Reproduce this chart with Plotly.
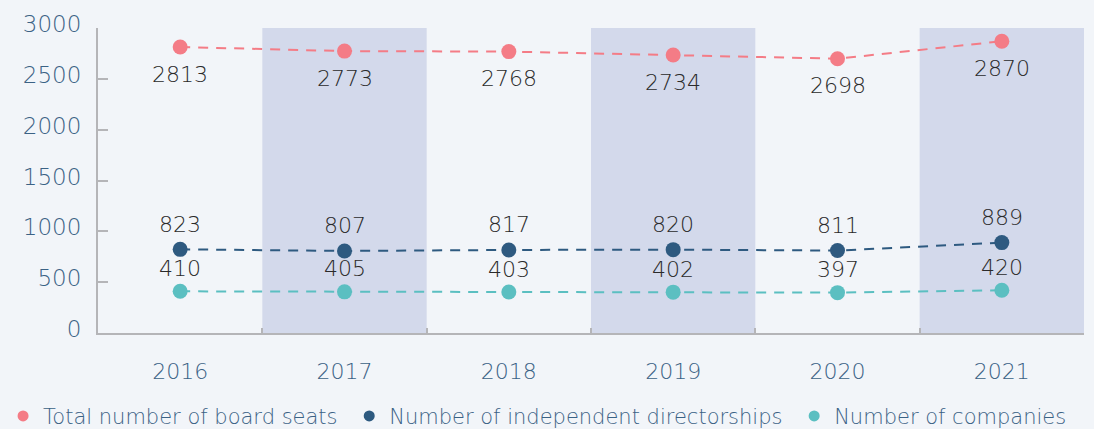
import plotly.graph_objects as go

years = ["2016", "2017", "2018", "2019", "2020", "2021"]
total_seats = [2813, 2773, 2768, 2734, 2698, 2870]
independent = [823, 807, 817, 820, 811, 889]
companies = [410, 405, 403, 402, 397, 420]
y_ticks = [0, 500, 1000, 1500, 2000, 2500, 3000]
shaded_years = ["2017", "2019", "2021"]

series = [
    ("Total number of board seats", total_seats, "#f47c86", -27),
    ("Number of independent directorships", independent, "#2e5a80", 25),
    ("Number of companies", companies, "#5bbfc1", 23),
]

FONT = "DejaVu Sans"
W = 300
fig = go.Figure()

for k, (name, vals, color, shift) in enumerate(series):
    fig.add_trace(go.Scatter(
        x=years, y=vals, mode="lines+markers", name=name, showlegend=False,
        line=dict(color=color, width=2, dash="10px,8px"),
        marker=dict(color=color, size=15),
        hoverinfo="x+y",
    ))
    for i, yv in enumerate(vals):
        fig.add_annotation(x=i, y=yv, xref="x", yref="y", text=str(yv), showarrow=False,
                           yshift=shift,
                           font=dict(family=FONT, size=22, color="#2a2a2a", weight=W))
    legend_name = name + ("\u00a0" if k < len(series) - 1 else "")
    fig.add_trace(go.Scatter(
        x=[None], y=[None], mode="markers", name=legend_name,
        marker=dict(color=color, size=11),
    ))

for yr in shaded_years:
    i = years.index(yr)
    fig.add_shape(type="rect", xref="x", yref="paper", x0=i - 0.5, x1=i + 0.5, y0=0, y1=1,
                  fillcolor="#d3d9eb", line=dict(width=0), layer="below")

fig.update_layout(
    width=1094, height=429,
    paper_bgcolor="#f2f5f9", plot_bgcolor="#f2f5f9",
    margin=dict(l=98, r=10, t=28, b=96, autoexpand=False),
    font=dict(family=FONT, color="#3b6285", weight=W),
    legend=dict(orientation="h", x=-0.0963, xanchor="left", y=-0.206, yanchor="top",
                font=dict(family=FONT, size=21, color="#3b6285", weight=W),
                itemwidth=30, bgcolor="rgba(0,0,0,0)"),
    xaxis=dict(type="category", range=[-0.5, 5.5], showgrid=False, showline=True,
               linecolor="#b5b5b8", linewidth=2, ticks="inside", tickson="boundaries",
               ticklen=5, tickcolor="#b5b5b8", tickwidth=2,
               tickfont=dict(family=FONT, size=22, color="#3b6285", weight=W),
               ticklabelstandoff=18),
    yaxis=dict(range=[0, 3000], tickvals=y_ticks, showgrid=False, zeroline=False,
               showline=True, linecolor="#b5b5b8", linewidth=2, ticks="inside",
               ticklen=10, tickcolor="#b5b5b8", tickwidth=2,
               tickfont=dict(family=FONT, size=23, color="#3b6285", weight=W),
               ticklabelstandoff=10, ticklabelshift=-4),
)

fig.write_html("out.html", config={"displayModeBar": False},
               post_script="document.body.style.margin='0';")
